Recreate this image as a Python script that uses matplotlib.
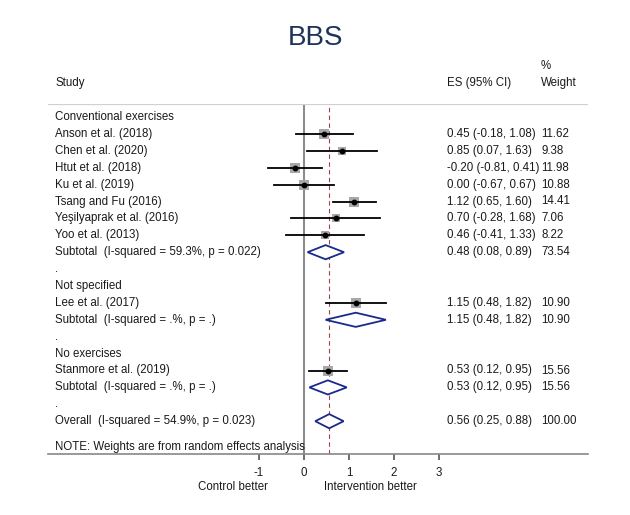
import matplotlib
matplotlib.use("Agg")
import matplotlib.pyplot as plt
from matplotlib.transforms import blended_transform_factory
from matplotlib.patches import Polygon

plt.rcParams['font.family'] = ['Liberation Sans', 'DejaVu Sans']

# ---------------- data ----------------
group_names = ["Conventional exercises", "Not specified", "No exercises"]
study_names = ["Anson et al. (2018)", "Chen et al. (2020)", "Htut et al. (2018)",
               "Ku et al. (2019)", "Tsang and Fu (2016)", "Yeşilyaprak et al. (2016)",
               "Yoo et al. (2013)", "Lee et al. (2017)", "Stanmore et al. (2019)"]
study_group = [0, 0, 0, 0, 0, 0, 0, 1, 2]
study_es = [0.45, 0.85, -0.20, 0.00, 1.12, 0.70, 0.46, 1.15, 0.53]
study_lo = [-0.18, 0.07, -0.81, -0.67, 0.65, -0.28, -0.41, 0.48, 0.12]
study_hi = [1.08, 1.63, 0.41, 0.67, 1.60, 1.68, 1.33, 1.82, 0.95]
study_wt = [11.62, 9.38, 11.98, 10.88, 14.41, 7.06, 8.22, 10.90, 15.56]

sub_labels = ["Subtotal  (I-squared = 59.3%, p = 0.022)",
              "Subtotal  (I-squared = .%, p = .)",
              "Subtotal  (I-squared = .%, p = .)"]
sub_es = [0.48, 1.15, 0.53]
sub_lo = [0.08, 0.48, 0.12]
sub_hi = [0.89, 1.82, 0.95]
sub_wt = [73.54, 10.90, 15.56]

overall_label = "Overall  (I-squared = 54.9%, p = 0.023)"
overall_es, overall_lo, overall_hi, overall_wt = 0.56, 0.25, 0.88, 100.00

xticks = [-1, 0, 1, 2, 3]

# ---------------- figure ----------------
W, H = 630, 515
fig = plt.figure(figsize=(W / 100, H / 100), dpi=100)
fig.patch.set_facecolor("white")

x0_px, unit_px = 304, 45.0
left_px, right_px = 48, 588
top_px, bottom_px = 104, 454
ax = fig.add_axes([left_px / W, 1 - bottom_px / H, (right_px - left_px) / W,
                   (bottom_px - top_px) / H])
ax.set_xlim((left_px - x0_px) / unit_px, (right_px - x0_px) / unit_px)
row_px0, row_step = 117, 16.9
ax.set_ylim((bottom_px - row_px0) / row_step, (top_px - row_px0) / row_step)

txt_color = "#1a1a1a"
fs = 8.3
navy = "#1a2a8a"
tr = blended_transform_factory(fig.transFigure, ax.transData)
col_study = 55 / W
col_es = 447 / W
col_wt = 541 / W

def put_row(y, label, es=None, lo=None, hi=None, wt=None):
    ax.text(col_study, y, label, transform=tr, fontsize=fs, color=txt_color,
            va="center", ha="left")
    if es is not None:
        ax.text(col_es, y, f"{es:.2f} ({lo:.2f}, {hi:.2f})", transform=tr,
                fontsize=fs, color=txt_color, va="center", ha="left")
        ax.text(col_wt, y, f"{wt:.2f}", transform=tr, fontsize=fs,
                color=txt_color, va="center", ha="left")

def diamond(y, es, lo, hi):
    h = 0.42
    poly = Polygon([(lo, y), (es, y - h), (hi, y), (es, y + h)], closed=True,
                   facecolor="white", edgecolor=navy, lw=1.3, zorder=4)
    ax.add_patch(poly)

row = 0
for g, gname in enumerate(group_names):
    put_row(row, gname)
    row += 1
    for i in range(len(study_names)):
        if study_group[i] != g:
            continue
        ax.plot([study_lo[i], study_hi[i]], [row, row], color="black", lw=1.3, zorder=3)
        ax.plot(study_es[i], row, marker="s", color="#a8a8a8",
                markersize=2.0 * study_wt[i] ** 0.5, markeredgewidth=0, zorder=2)
        ax.plot(study_es[i], row, marker="o", color="black", markersize=3.2, zorder=5)
        put_row(row, study_names[i], study_es[i], study_lo[i], study_hi[i], study_wt[i])
        row += 1
    diamond(row, sub_es[g], sub_lo[g], sub_hi[g])
    put_row(row, sub_labels[g], sub_es[g], sub_lo[g], sub_hi[g], sub_wt[g])
    row += 1
    put_row(row, ".")
    row += 1

diamond(row, overall_es, overall_lo, overall_hi)
put_row(row, overall_label, overall_es, overall_lo, overall_hi, overall_wt)
ax.text(col_study, row + 1.5, "NOTE: Weights are from random effects analysis",
        transform=tr, fontsize=fs, color=txt_color, va="center", ha="left")

# reference lines
ax.axvline(0, color="#8c8c8c", lw=1.5, zorder=1)
ax.axvline(overall_es, color="#a0444c", lw=0.8, ls=(0, (4, 3)), zorder=1)
ax.axhline(ax.get_ylim()[1], color="#d0d0d0", lw=1.6, zorder=1)

# axes style
for s in ["left", "right", "top"]:
    ax.spines[s].set_visible(False)
ax.spines["bottom"].set_color("#888888")
ax.spines["bottom"].set_linewidth(1.2)
ax.set_yticks([])
ax.set_xticks(xticks)
ax.set_xticklabels([str(t) for t in xticks])
ax.tick_params(axis="x", length=4.5, width=1.2, color="#555555", labelsize=fs,
               labelcolor=txt_color, pad=5)

# headers
fig.text(0.5, 1 - 38 / H, "BBS", fontsize=20, color="#1f3358", ha="center", va="center")
fig.text(col_study, 1 - 83 / H, "Study", fontsize=fs, color=txt_color, va="center")
fig.text(col_es, 1 - 83 / H, "ES (95% CI)", fontsize=fs, color=txt_color, va="center")
fig.text(col_wt, 1 - 83 / H, "Weight", fontsize=fs, color=txt_color, va="center")
fig.text(col_wt, 1 - 66 / H, "%", fontsize=fs, color=txt_color, va="center")
fig.text(233 / W, 1 - 487 / H, "Control better", fontsize=fs, color=txt_color,
         ha="center", va="center")
fig.text(370 / W, 1 - 487 / H, "Intervention better", fontsize=fs, color=txt_color,
         ha="center", va="center")

fig.savefig("out.png", dpi=100, facecolor="white")
